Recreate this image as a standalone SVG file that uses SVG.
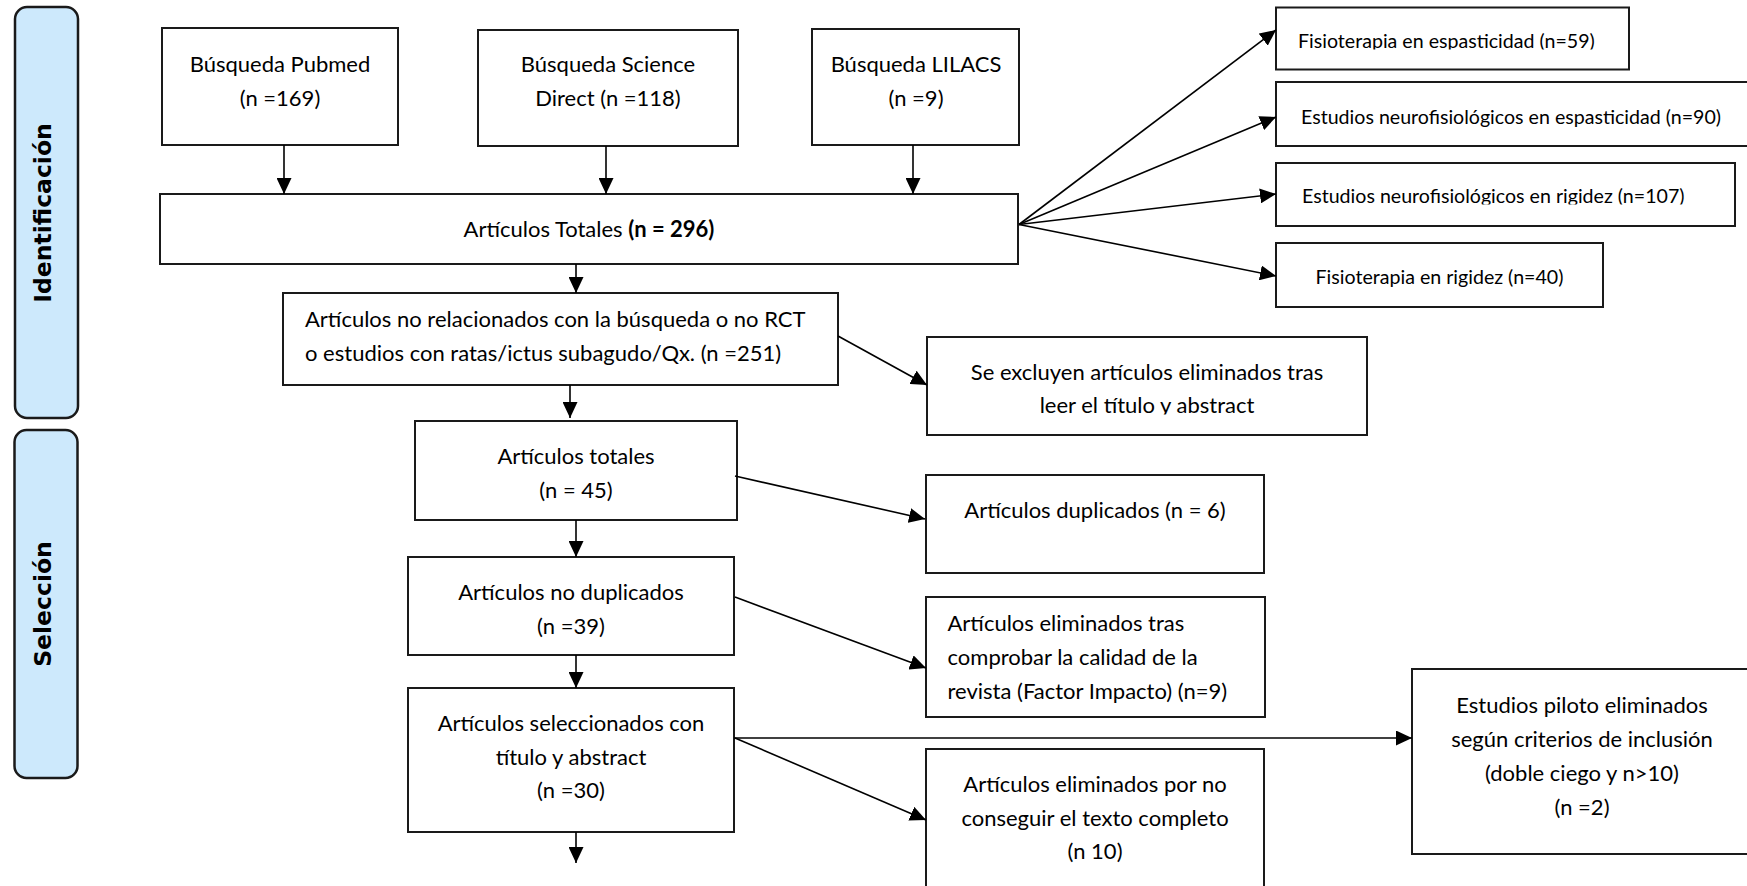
<svg xmlns="http://www.w3.org/2000/svg" width="1747" height="886" viewBox="0 0 1747 886">
  <style>
    .box { fill: #ffffff; stroke: #1a1a1a; stroke-width: 2; }
    .phase { fill: #cde9fc; stroke: #1a1a1a; stroke-width: 2.5; }
    .t { font-family: Lato, "Liberation Sans", sans-serif; font-size: 22px; fill: #000000; }
    .s { font-size: 19.6px; }
    .c { text-anchor: middle; }
    .b { font-weight: bold; }
    .plabel { font-family: "DejaVu Sans", sans-serif; font-weight: bold; font-size: 23.5px; text-anchor: middle; fill: #000000; }
    .edge { stroke: #000000; stroke-width: 1.6; fill: none; marker-end: url(#ah); }
  </style>
  <defs>
    <marker id="ah" markerUnits="userSpaceOnUse" markerWidth="16" markerHeight="15" refX="16" refY="7.5" orient="auto">
      <path d="M0,0 L16,7.5 L0,15 z" fill="#000000"/>
    </marker>
    <!-- text lines whose descenders are cut off by their frame -->
    <clipPath id="clip-fis-esp"><rect x="1270" y="0" width="400" height="49.5"/></clipPath>
    <clipPath id="clip-neuro-rig"><rect x="1270" y="150" width="480" height="54.5"/></clipPath>
    <clipPath id="clip-leer"><rect x="920" y="390" width="460" height="24.5"/></clipPath>
  </defs>

  <rect width="1747" height="886" fill="#ffffff"/>

  <!-- phase labels -->
  <g id="phase-identificacion">
    <rect class="phase" x="15" y="7" width="63" height="411" rx="12"/>
    <text class="plabel" transform="translate(50.5,213) rotate(-90)">Identificación</text>
  </g>
  <g id="phase-seleccion">
    <rect class="phase" x="14.5" y="430" width="63" height="348" rx="12"/>
    <text class="plabel" transform="translate(51,604) rotate(-90)">Selección</text>
  </g>

  <!-- sources -->
  <g id="pubmed">
    <rect class="box" x="162" y="28" width="236" height="117"/>
    <text class="t c" x="280" y="72">Búsqueda  Pubmed</text>
    <text class="t c" x="280" y="106">(n =169)</text>
  </g>
  <g id="sciencedirect">
    <rect class="box" x="478" y="30" width="260" height="116"/>
    <text class="t c" x="608" y="72">Búsqueda Science</text>
    <text class="t c" x="608" y="106">Direct (n =118)</text>
  </g>
  <g id="lilacs">
    <rect class="box" x="812" y="29" width="207" height="116"/>
    <text class="t c" x="916" y="72">Búsqueda LILACS</text>
    <text class="t c" x="916" y="106">(n =9)</text>
  </g>

  <g id="totales">
    <rect class="box" x="160" y="194" width="858" height="70"/>
    <text class="t c" x="589" y="237">Artículos Totales <tspan class="b">(n = 296)</tspan></text>
  </g>

  <!-- topic split -->
  <g id="fis-esp">
    <rect class="box" x="1276" y="7.5" width="353" height="62"/>
    <text class="t s" x="1298" y="47.5" clip-path="url(#clip-fis-esp)">Fisioterapia en espasticidad (n=59)</text>
  </g>
  <g id="neuro-esp">
    <rect class="box" x="1276" y="82" width="476" height="64"/>
    <text class="t s" x="1301" y="123.5">Estudios neurofisiológicos en espasticidad (n=90)</text>
  </g>
  <g id="neuro-rig">
    <rect class="box" x="1276" y="163" width="459" height="63"/>
    <text class="t s" x="1302" y="203" clip-path="url(#clip-neuro-rig)">Estudios neurofisiológicos en rigidez (n=107)</text>
  </g>
  <g id="fis-rig">
    <rect class="box" x="1276" y="243" width="327" height="64"/>
    <text class="t s c" x="1439.5" y="284">Fisioterapia en rigidez (n=40)</text>
  </g>

  <!-- screening column -->
  <g id="no-relacionados">
    <rect class="box" x="283" y="293" width="555" height="92"/>
    <text class="t" x="305" y="327">Artículos no relacionados con la búsqueda o no RCT</text>
    <text class="t" x="305" y="361">o estudios con ratas/ictus subagudo/Qx. (n =251)</text>
  </g>
  <g id="excluidos-titulo">
    <rect class="box" x="927" y="337" width="440" height="98"/>
    <text class="t c" x="1147" y="380">Se excluyen artículos eliminados tras</text>
    <text class="t c" x="1147" y="413" clip-path="url(#clip-leer)">leer el título y abstract</text>
  </g>
  <g id="articulos-totales">
    <rect class="box" x="415" y="421" width="322" height="99"/>
    <text class="t c" x="576" y="464">Artículos totales</text>
    <text class="t c" x="576" y="498">(n = 45)</text>
  </g>
  <g id="duplicados">
    <rect class="box" x="926" y="475" width="338" height="98"/>
    <text class="t c" x="1095" y="518">Artículos duplicados (n = 6)</text>
  </g>
  <g id="no-duplicados">
    <rect class="box" x="408" y="557" width="326" height="98"/>
    <text class="t c" x="571" y="600">Artículos no duplicados</text>
    <text class="t c" x="571" y="634">(n =39)</text>
  </g>
  <g id="factor-impacto">
    <rect class="box" x="926" y="597" width="339" height="120"/>
    <text class="t" x="947.5" y="631">Artículos eliminados tras</text>
    <text class="t" x="947.5" y="665">comprobar la calidad de la</text>
    <text class="t" x="947.5" y="699">revista (Factor Impacto) (n=9)</text>
  </g>
  <g id="seleccionados">
    <rect class="box" x="408" y="688" width="326" height="144"/>
    <text class="t c" x="571" y="731">Artículos seleccionados con</text>
    <text class="t c" x="571" y="765">título y abstract</text>
    <text class="t c" x="571" y="798">(n =30)</text>
  </g>
  <g id="piloto">
    <rect class="box" x="1412" y="669" width="340" height="185"/>
    <text class="t c" x="1582" y="713">Estudios piloto eliminados</text>
    <text class="t c" x="1582" y="747">según criterios de inclusión</text>
    <text class="t c" x="1582" y="781">(doble ciego y n&gt;10)</text>
    <text class="t c" x="1582" y="815">(n =2)</text>
  </g>
  <g id="texto-completo">
    <rect class="box" x="926" y="749" width="338" height="141"/>
    <text class="t c" x="1095" y="792">Artículos eliminados por no</text>
    <text class="t c" x="1095" y="826">conseguir el texto completo</text>
    <text class="t c" x="1095" y="859">(n 10)</text>
  </g>

  <!-- connectors -->
  <g id="connectors">
    <line class="edge" x1="284" y1="145" x2="284" y2="194"/>
    <line class="edge" x1="606" y1="146" x2="606" y2="194"/>
    <line class="edge" x1="913" y1="145" x2="913" y2="194"/>

    <line class="edge" x1="1019" y1="224.5" x2="1276" y2="30"/>
    <line class="edge" x1="1019" y1="224.5" x2="1276" y2="117"/>
    <line class="edge" x1="1019" y1="224.5" x2="1276" y2="194"/>
    <line class="edge" x1="1019" y1="224.5" x2="1276" y2="276"/>

    <line class="edge" x1="576" y1="264" x2="576" y2="293"/>
    <line class="edge" x1="838" y1="336" x2="927" y2="385"/>
    <line class="edge" x1="570" y1="385" x2="570" y2="418"/>
    <line class="edge" x1="735" y1="476" x2="925" y2="519"/>
    <line class="edge" x1="576" y1="520" x2="576" y2="557"/>
    <line class="edge" x1="735" y1="597" x2="926" y2="668"/>
    <line class="edge" x1="576" y1="655" x2="576" y2="688"/>
    <line class="edge" x1="734" y1="738" x2="1412" y2="738"/>
    <line class="edge" x1="735" y1="738" x2="926" y2="820"/>
    <line class="edge" x1="576" y1="832" x2="576" y2="863"/>
  </g>
</svg>
